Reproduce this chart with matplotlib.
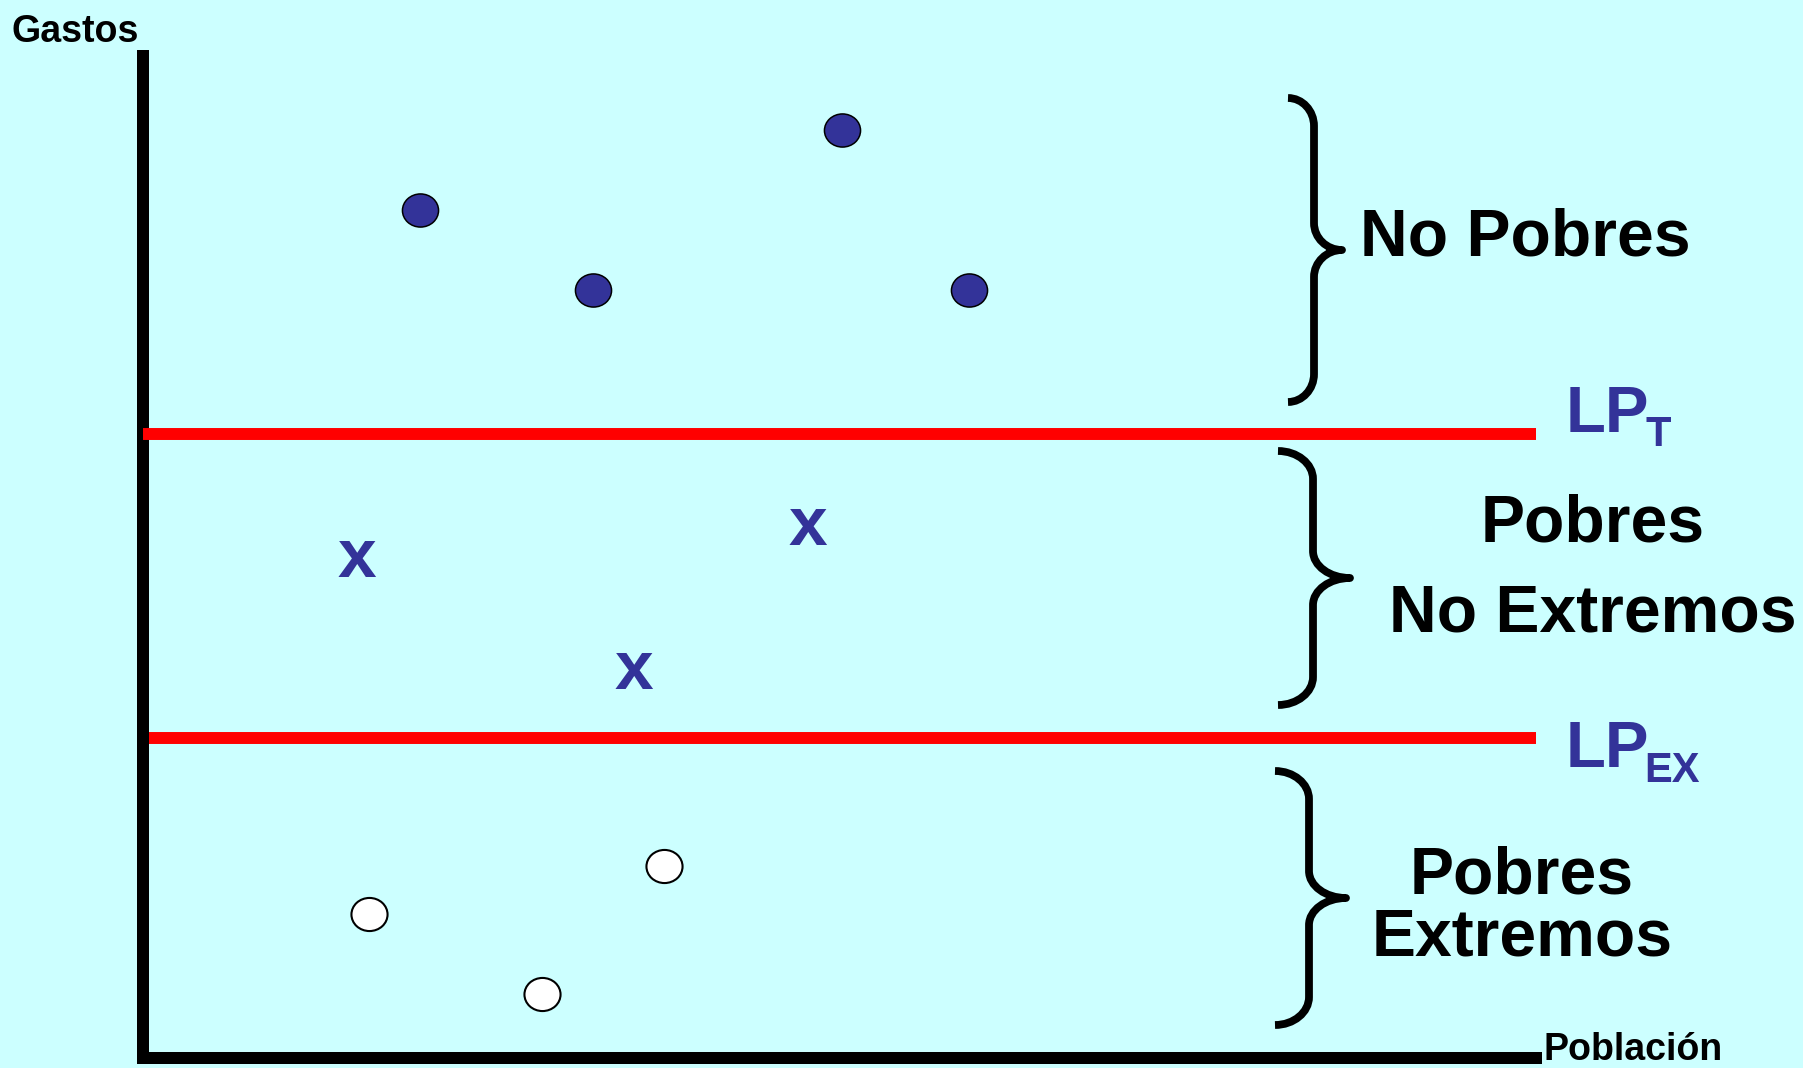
import matplotlib
matplotlib.use("Agg")
import matplotlib.pyplot as plt
from matplotlib.path import Path
from matplotlib.patches import PathPatch
from matplotlib.markers import MarkerStyle
from matplotlib.transforms import Affine2D, offset_copy

plt.rcParams['font.family'] = ['Liberation Sans', 'DejaVu Sans']

# ---------------- data (arbitrary units: Población 0-100, Gastos 0-100) ----------------
no_pobres_x = [19.9, 32.3, 50.2, 59.3]
no_pobres_y = [84.1, 76.2, 92.1, 76.2]
pobres_no_ext_x = [15.3, 47.7, 35.2]
pobres_no_ext_y = [49.5, 52.7, 38.4]
pobres_ext_x = [16.2, 37.4, 28.6]
pobres_ext_y = [14.3, 19.0, 6.3]
lp_total = 61.9
lp_extrema = 31.7

BG = '#CCFFFF'
BLUE = '#333399'
W, H = 1803, 1068

fig = plt.figure(figsize=(W / 100, H / 100), dpi=100, facecolor=BG)

# axes region in pixels (top-left origin)
ax_l, ax_r, ax_t, ax_b = 143.3, 1536, 50, 1058
ax = fig.add_axes([ax_l / W, (H - ax_b) / H, (ax_r - ax_l) / W, (ax_b - ax_t) / H])
ax.set_facecolor('none')
ax.set_xlim(0, 100)
ax.set_ylim(0, 100)
ax.set_xticks([])
ax.set_yticks([])
for s in ['top', 'right']:
    ax.spines[s].set_visible(False)
ax.spines['left'].set_linewidth(8.64)
ax.spines['left'].set_capstyle('butt')
ax.spines['left'].set_zorder(3)
ax.spines['bottom'].set_linewidth(8.64)
ax.spines['bottom'].set_capstyle('projecting')
ax.spines['bottom'].set_zorder(3)

# poverty lines
ax.plot([0, 100], [lp_total, lp_total], color='#FF0000', lw=8.6,
        solid_capstyle='butt', zorder=4, clip_on=False)
ax.plot([0, 100], [lp_extrema, lp_extrema], color='#FF0000', lw=8.6,
        solid_capstyle='butt', zorder=2, clip_on=False)

# slightly flattened circle marker
ell = Path.unit_circle().transformed(Affine2D().scale(1.0, 0.917))
mk = MarkerStyle(ell)

ax.plot(no_pobres_x, no_pobres_y, linestyle='none', marker=mk, markersize=26,
        markerfacecolor=BLUE, markeredgecolor='black', markeredgewidth=1.1, zorder=5)
ax.plot(pobres_ext_x, pobres_ext_y, linestyle='none', marker=mk, markersize=26,
        markerfacecolor='white', markeredgecolor='black', markeredgewidth=1.5, zorder=5)

xtrans = offset_copy(ax.transData, fig=fig, x=0, y=-18, units='dots')
for xv, yv in zip(pobres_no_ext_x, pobres_no_ext_y):
    ax.text(xv, yv, 'x', transform=xtrans, fontsize=50, fontweight='bold',
            color=BLUE, ha='center', va='baseline', zorder=5)

# ---------------- helper for pixel-positioned annotations ----------------
pxT = Affine2D().scale(1 / W, -1 / H).translate(0, 1) + fig.transFigure


def ftext(x, y, s, size, color='black', ha='left'):
    fig.text(x, y, s, transform=pxT, fontsize=size, fontweight='bold',
             color=color, ha=ha, va='baseline')


ftext(11.5, 42, 'Gastos', 27)
ftext(1543.5, 1060, 'Población', 27)

ftext(1360, 255, 'No Pobres', 47.5)
ftext(1593, 542, 'Pobres', 47.5, ha='center')
ftext(1593, 631, 'No Extremos', 47.5, ha='center')
ftext(1522, 893, 'Pobres', 47.5, ha='center')
ftext(1522, 956, 'Extremos', 47.5, ha='center')

ftext(1566, 432, 'LP', 47, color=BLUE)
ftext(1646, 446, 'T', 30, color=BLUE)
ftext(1566, 767, 'LP', 47, color=BLUE)
ftext(1644, 782, 'EX', 30, color=BLUE)


def brace(x_end, x_spine, x_tip, y_top, y_mid, y_bot, r_end=28, r_mid=27):
    k = 0.55
    rx1 = x_spine - x_end
    rx2 = x_tip - x_spine
    verts = [
        (x_end, y_top),
        (x_end + k * rx1, y_top), (x_spine, y_top + r_end - k * r_end), (x_spine, y_top + r_end),
        (x_spine, y_mid - r_mid),
        (x_spine, y_mid - r_mid + k * r_mid), (x_tip - k * rx2, y_mid), (x_tip, y_mid),
        (x_tip - k * rx2, y_mid), (x_spine, y_mid + r_mid - k * r_mid), (x_spine, y_mid + r_mid),
        (x_spine, y_bot - r_end),
        (x_spine, y_bot - r_end + k * r_end), (x_end + k * rx1, y_bot), (x_end, y_bot),
    ]
    codes = [Path.MOVETO,
             Path.CURVE4, Path.CURVE4, Path.CURVE4,
             Path.LINETO,
             Path.CURVE4, Path.CURVE4, Path.CURVE4,
             Path.CURVE4, Path.CURVE4, Path.CURVE4,
             Path.LINETO,
             Path.CURVE4, Path.CURVE4, Path.CURVE4]
    p = PathPatch(Path(verts, codes), transform=pxT, fill=False, edgecolor='black',
                  linewidth=5.6, capstyle='butt', joinstyle='round')
    fig.add_artist(p)


brace(1288, 1314, 1342, 98, 250, 402)
brace(1278, 1313, 1350, 451, 578, 705)
brace(1275, 1309, 1346, 771, 898, 1025)

fig.savefig('out.png', dpi=100, facecolor=BG)
